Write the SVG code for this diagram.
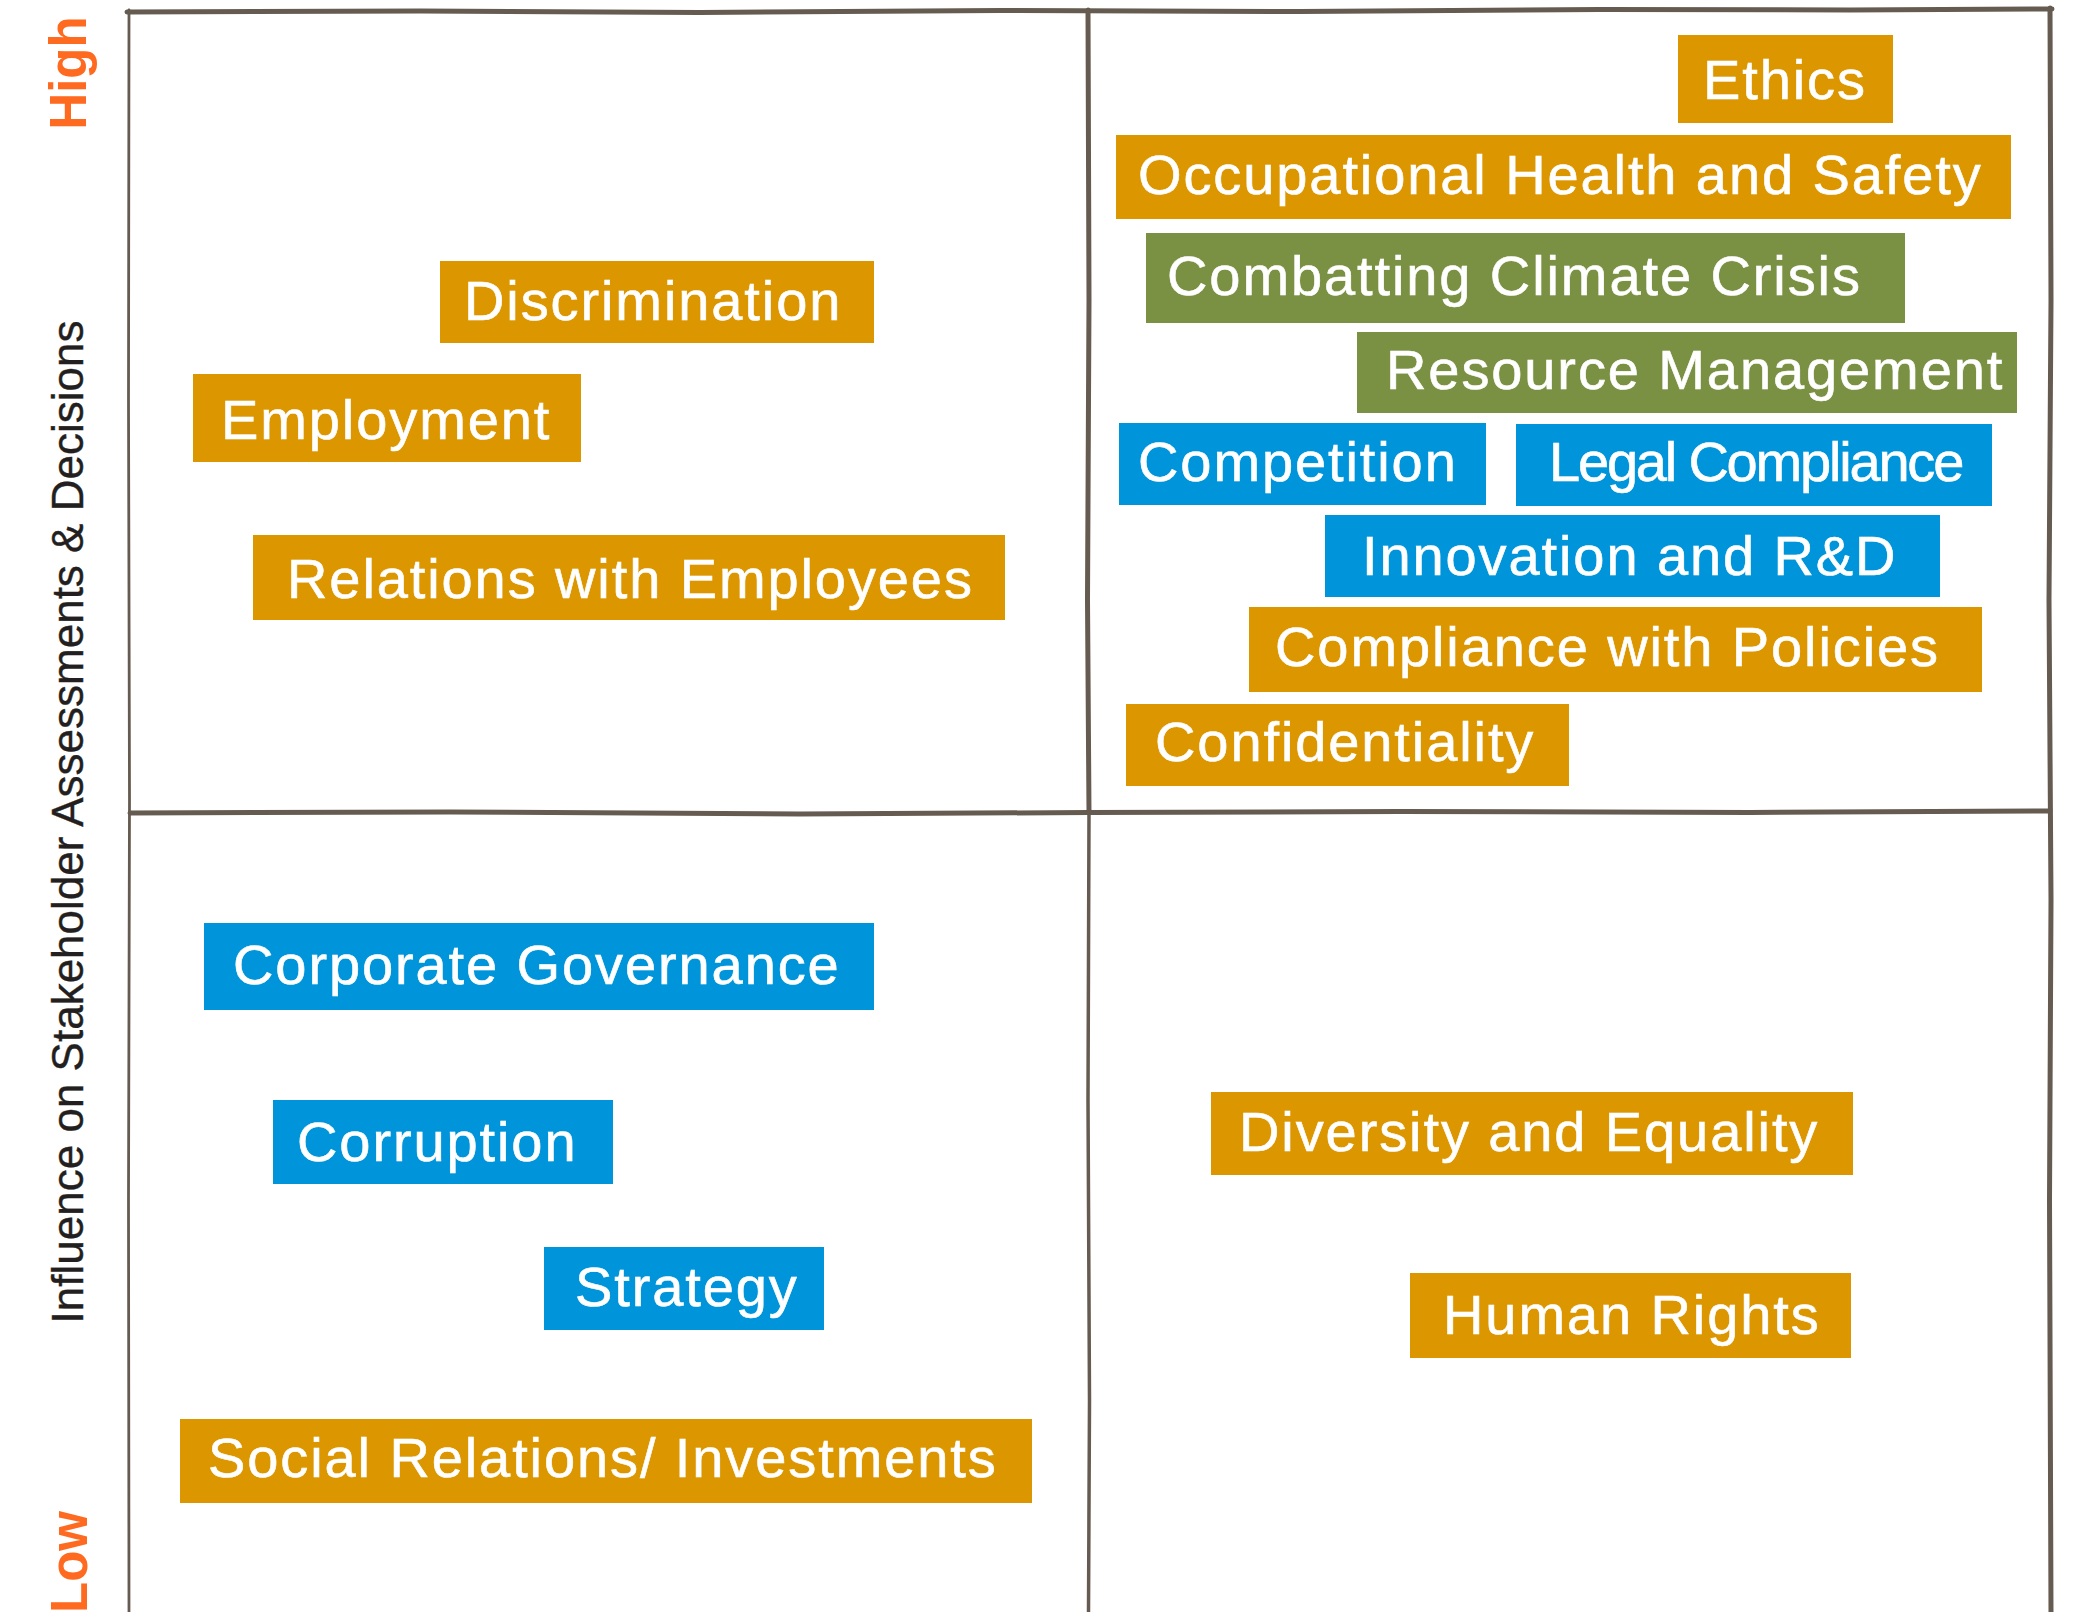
<svg xmlns="http://www.w3.org/2000/svg" width="2091" height="1612" viewBox="0 0 2091 1612">
  <style>
    .gold { fill: #DB9600; }
    .green { fill: #7A9143; }
    .blue { fill: #0095DA; }
    .lbl { font-family: "Liberation Sans", Arial, sans-serif; font-size: 56px; fill: #ffffff; stroke: #ffffff; stroke-width: 0.6px; letter-spacing: 1.9px; }
    .tight { letter-spacing: -2.2px; }
    .axis { font-family: "Liberation Sans", Arial, sans-serif; font-size: 44px; fill: #231f20; stroke: #231f20; stroke-width: 0.4px; }
    .level { font-family: "Liberation Sans", Arial, sans-serif; font-size: 51px; font-weight: bold; fill: #FF6A21; }
    .line { fill: none; stroke: #655b50; stroke-linecap: round; stroke-linejoin: round; }
  </style>

  <rect width="2091" height="1612" fill="#ffffff"/>

  <!-- hand-drawn quadrant grid -->
  <g id="grid">
    <path class="line" stroke-width="5" d="M127 12 L420 11 L700 12.5 L1000 10.5 L1300 11.5 L1600 9.5 L1850 10 L2052 9"/>
    <path class="line" stroke-width="5" d="M2050 8 L2051 300 L2049 600 L2051 900 L2049.5 1200 L2051 1612"/>
    <path class="line" stroke-width="2.8" d="M129 10 L128.5 400 L129.5 800 L128.5 1200 L129 1612"/>
    <path class="line" stroke-width="5" d="M1088 10 L1089 300 L1087.5 600 L1089 813"/>
    <path class="line" stroke-width="3.5" d="M1089 813 L1088 1100 L1089.5 1400 L1088.5 1612"/>
    <path class="line" stroke-width="5" d="M130 813 L450 812 L800 814 L1089 812.5 L1400 811.5 L1750 812.5 L2050 811"/>
  </g>

  <!-- axis titles -->
  <g id="axis-labels">
    <text class="level" transform="translate(86 73) rotate(-90)" text-anchor="middle">High</text>
    <text class="level" transform="translate(87 1562) rotate(-90)" text-anchor="middle">Low</text>
    <text class="axis" transform="translate(83 822) rotate(-90)" text-anchor="middle">Influence on Stakeholder Assessments &amp; Decisions</text>
  </g>

  <!-- upper-right quadrant -->
  <g id="ethics"><rect class="gold" x="1678" y="35" width="215" height="88"/><text class="lbl" x="1703" y="99">Ethics</text></g>
  <g id="ohs"><rect class="gold" x="1116" y="135" width="895" height="84"/><text class="lbl" x="1138" y="194">Occupational Health and Safety</text></g>
  <g id="climate"><rect class="green" x="1146" y="233" width="759" height="90"/><text class="lbl" x="1167" y="295">Combatting Climate Crisis</text></g>
  <g id="resources"><rect class="green" x="1357" y="332" width="660" height="81"/><text class="lbl" x="1386" y="389">Resource Management</text></g>
  <g id="competition"><rect class="blue" x="1119" y="423" width="367" height="82"/><text class="lbl" x="1138" y="481">Competition</text></g>
  <g id="legal"><rect class="blue" x="1516" y="424" width="476" height="82"/><text class="lbl tight" x="1549" y="481">Legal Compliance</text></g>
  <g id="innovation"><rect class="blue" x="1325" y="515" width="615" height="82"/><text class="lbl" x="1362" y="575">Innovation and R&amp;D</text></g>
  <g id="policies"><rect class="gold" x="1249" y="607" width="733" height="85"/><text class="lbl" x="1275" y="666">Compliance with Policies</text></g>
  <g id="confidentiality"><rect class="gold" x="1126" y="704" width="443" height="82"/><text class="lbl" x="1155" y="761">Confidentiality</text></g>

  <!-- upper-left quadrant -->
  <g id="discrimination"><rect class="gold" x="440" y="261" width="434" height="82"/><text class="lbl" x="464" y="320">Discrimination</text></g>
  <g id="employment"><rect class="gold" x="193" y="374" width="388" height="88"/><text class="lbl" x="221" y="439">Employment</text></g>
  <g id="relations"><rect class="gold" x="253" y="535" width="752" height="85"/><text class="lbl" x="287" y="598">Relations with Employees</text></g>

  <!-- lower-left quadrant -->
  <g id="governance"><rect class="blue" x="204" y="923" width="670" height="87"/><text class="lbl" x="233" y="984">Corporate Governance</text></g>
  <g id="corruption"><rect class="blue" x="273" y="1100" width="340" height="84"/><text class="lbl" x="297" y="1161">Corruption</text></g>
  <g id="strategy"><rect class="blue" x="544" y="1247" width="280" height="83"/><text class="lbl" x="575" y="1306">Strategy</text></g>
  <g id="social"><rect class="gold" x="180" y="1419" width="852" height="84"/><text class="lbl" x="208" y="1477">Social Relations/ Investments</text></g>

  <!-- lower-right quadrant -->
  <g id="diversity"><rect class="gold" x="1211" y="1092" width="642" height="83"/><text class="lbl" x="1239" y="1151">Diversity and Equality</text></g>
  <g id="rights"><rect class="gold" x="1410" y="1273" width="441" height="85"/><text class="lbl" x="1443" y="1334">Human Rights</text></g>
</svg>
